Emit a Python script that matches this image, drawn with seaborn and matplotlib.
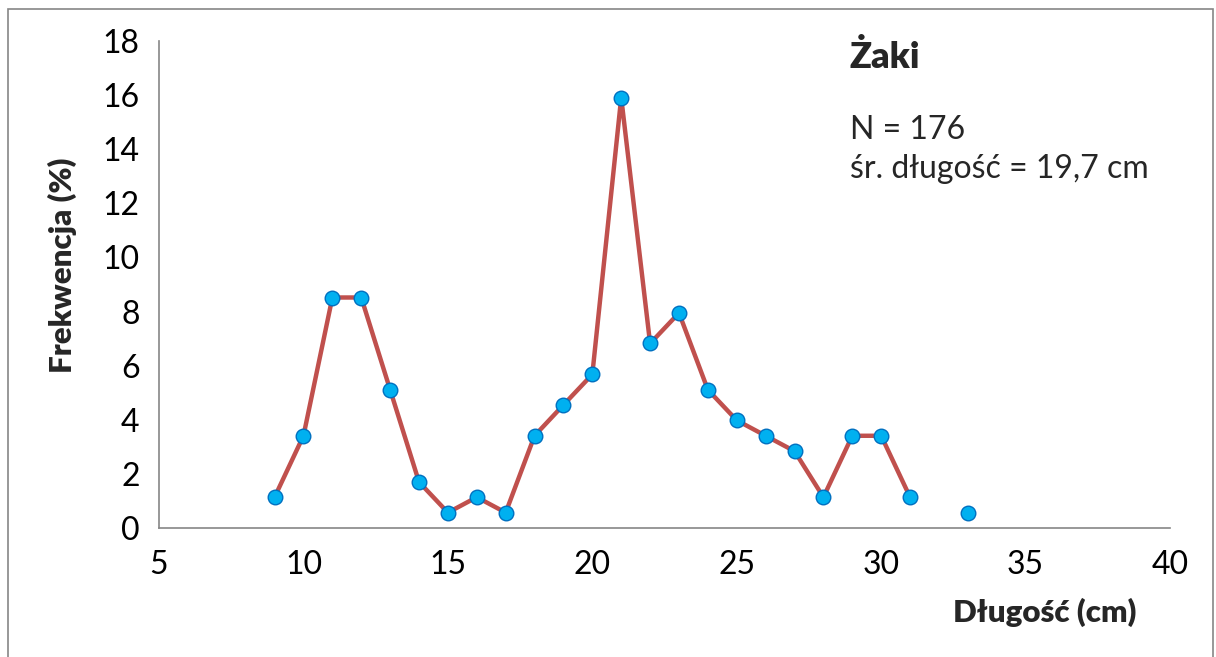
import matplotlib
matplotlib.use('Agg')
import matplotlib.pyplot as plt
from matplotlib.patches import Rectangle
import seaborn as sns
import numpy as np
import pandas as pd

# length classes (cm) and frequency (%); 32 cm has no fish
lengths = [9, 10, 11, 12, 13, 14, 15, 16, 17, 18, 19, 20, 21, 22, 23, 24,
           25, 26, 27, 28, 29, 30, 31, 33]
freq_pct = [1.14, 3.41, 8.52, 8.52, 5.11, 1.70, 0.57, 1.14, 0.57, 3.41, 4.55,
            5.68, 15.91, 6.82, 7.95, 5.11, 3.98, 3.41, 2.84, 1.14, 3.41, 3.41,
            1.14, 0.57]
x_ticks = [5, 10, 15, 20, 25, 30, 35, 40]
y_ticks = [0, 2, 4, 6, 8, 10, 12, 14, 16, 18]

title = 'Żaki'
info_lines = ['N = 176', 'śr. długość = 19,7 cm']

df = pd.DataFrame({'len': lengths, 'freq': freq_pct})
# line is broken where a length class is missing
df['seg'] = (df['len'].diff().fillna(1) > 1).cumsum()

sns.set_style('white')
plt.rcParams['font.family'] = ['Lato', 'DejaVu Sans']

fig = plt.figure(figsize=(12.16, 6.57), dpi=100)
ax = fig.add_axes([0.1308, 0.1963, 0.9622 - 0.1308, 0.9376 - 0.1963])

grey = '#868686'
sns.lineplot(data=df, x='len', y='freq', units='seg', estimator=None,
             color='#C0504D', linewidth=3.2, ax=ax, zorder=2)
sns.scatterplot(data=df, x='len', y='freq', color='#00B0F0', edgecolor='#0070C0',
                linewidth=1.0, s=110, ax=ax, zorder=3)

ax.set_xlim(5, 40)
ax.set_ylim(0, 18)
ax.set_xticks(x_ticks)
ax.set_yticks(y_ticks)
ax.tick_params(axis='both', labelsize=23, colors=grey, labelcolor='black',
               length=7, width=1.2, direction='out', pad=7)
ax.tick_params(axis='x', pad=9)
for side in ['top', 'right']:
    ax.spines[side].set_visible(False)
for side in ['left', 'bottom']:
    ax.spines[side].set_color(grey)
    ax.spines[side].set_linewidth(1.2)

ax.set_xlabel('')
ax.set_ylabel('')
fig.text(1045 / 1216, 1 - 612 / 657, 'Długość (cm)', ha='center', va='center',
         fontsize=22.5, fontweight='heavy')
fig.text(62 / 1216, 1 - 265 / 657, 'Frekwencja (%)', ha='center', va='center',
         rotation=90, fontsize=22.5, fontweight='heavy')

fig.text(850 / 1216, 1 - 68 / 657, title, ha='left', va='baseline',
         fontsize=26, fontweight='heavy')
fig.text(850 / 1216, 1 - 139 / 657, info_lines[0], ha='left', va='baseline',
         fontsize=23)
fig.text(850 / 1216, 1 - 178 / 657, info_lines[1], ha='left', va='baseline',
         fontsize=23)

# outer chart-area frame
fig.patches.append(Rectangle((8 / 1216, -0.01), (1213 - 8) / 1216, 1 - 9 / 657 + 0.01,
                             transform=fig.transFigure, fill=False,
                             edgecolor=grey, linewidth=1.2))

fig.savefig('out.png', dpi=100)
plt.close(fig)
